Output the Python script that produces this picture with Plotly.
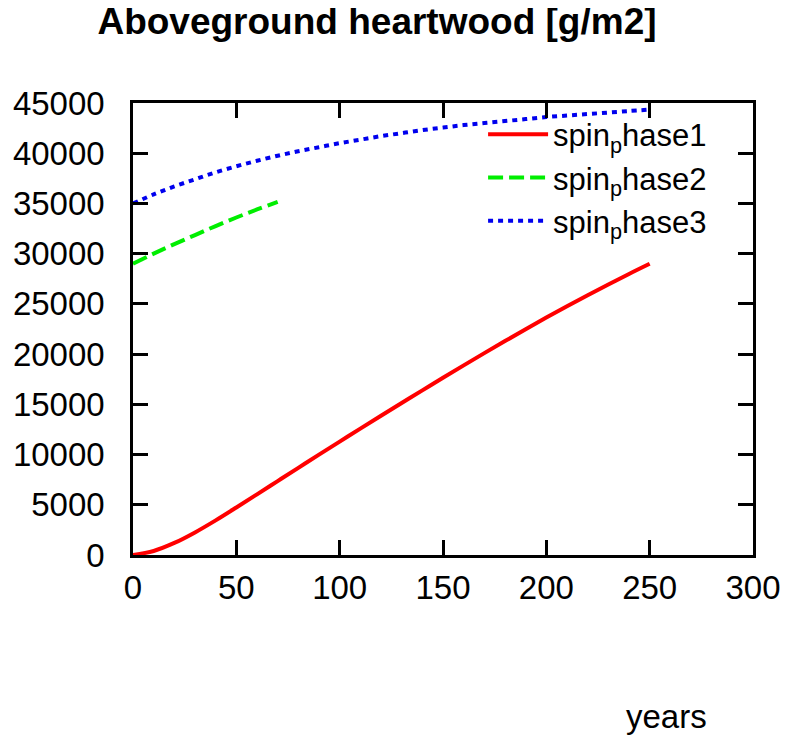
import plotly.graph_objects as go

years1 = [0, 10, 20, 30, 40, 50, 60, 70, 80, 90, 100, 110, 120, 130, 140, 150,
          160, 170, 180, 190, 200, 210, 220, 230, 240, 250]
phase1 = [0, 400, 1200, 2250, 3450, 4730, 6040, 7360, 8680, 9990, 11290, 12580,
          13860, 15130, 16390, 17640, 18880, 20100, 21300, 22480, 23640, 24770,
          25870, 26940, 27980, 28990]

years2 = [0, 10, 20, 30, 40, 50, 60, 70]
phase2 = [29000, 30000, 30950, 31850, 32750, 33600, 34400, 35150]

years3 = years1
phase3 = [35000, 35900, 36700, 37400, 38100, 38700, 39250, 39750, 40200, 40600,
          41000, 41350, 41700, 42000, 42300, 42550, 42800, 43000, 43200, 43400,
          43600, 43750, 43900, 44050, 44200, 44350]

names = ["spin<sub>p</sub>hase1", "spin<sub>p</sub>hase2", "spin<sub>p</sub>hase3"]
x_ticks = [0, 50, 100, 150, 200, 250, 300]
y_ticks = [0, 5000, 10000, 15000, 20000, 25000, 30000, 35000, 40000, 45000]

FONT = "Liberation Sans, Arial, sans-serif"

fig = go.Figure()
fig.add_trace(go.Scatter(x=years1, y=phase1, mode="lines", name=names[0],
                         line=dict(color="#ff0000", width=4, shape="spline")))
fig.add_trace(go.Scatter(x=years2, y=phase2, mode="lines", name=names[1],
                         line=dict(color="#00ee00", width=4, dash="15px,6px", shape="spline")))
fig.add_trace(go.Scatter(x=years3, y=phase3, mode="lines", name=names[2],
                         line=dict(color="#0000ee", width=4, dash="5px,5px", shape="spline")))

axis_common = dict(showline=True, linecolor="black", linewidth=2.5, mirror="ticks",
                   ticks="inside", ticklen=15, tickwidth=2.5, tickcolor="black",
                   showgrid=False, zeroline=False, automargin=False,
                   tickfont=dict(family=FONT, size=33, color="black"))

fig.update_xaxes(range=[0, 300], tickvals=x_ticks, ticktext=[str(v) for v in x_ticks],
                 ticklabelstandoff=2, **axis_common)
fig.update_yaxes(range=[0, 45000], tickvals=y_ticks, ticktext=[str(v) for v in y_ticks],
                 ticklabelstandoff=19, **axis_common)

fig.update_layout(
    template="none",
    width=792, height=727,
    margin=dict(l=125, r=47, t=95, b=180, autoexpand=False),
    paper_bgcolor="white", plot_bgcolor="white",
    title=dict(text="<b>Aboveground heartwood [g/m2]</b>", x=(377 - 8) / 792, xanchor="center",
               y=1, yanchor="top", pad=dict(t=0),
               font=dict(family=FONT, size=37, color="black")),
    legend=dict(x=0.934, xanchor="right", y=0.99, yanchor="top",
                bgcolor="rgba(0,0,0,0)", font=dict(family=FONT, size=31, color="black"),
                tracegroupgap=0, itemwidth=60),
    showlegend=True,
    annotations=[dict(text="years", xref="paper", yref="paper", x=0.861, y=-0.357,
                      xanchor="center", yanchor="middle", showarrow=False,
                      font=dict(family=FONT, size=33, color="black"))],
)

fig.write_html("out.html")
